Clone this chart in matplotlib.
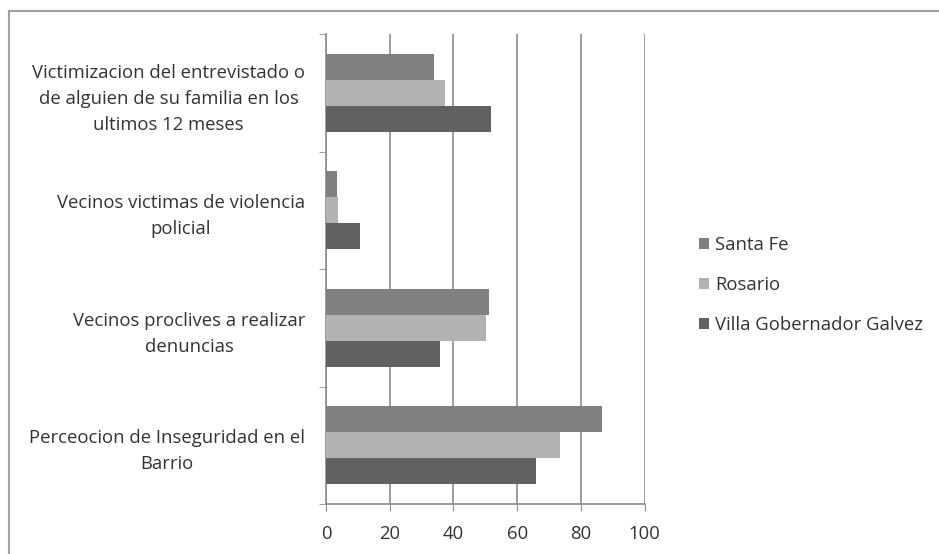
import matplotlib
matplotlib.use("Agg")
import matplotlib.pyplot as plt
import numpy as np
from matplotlib.lines import Line2D
from matplotlib.patches import Patch

categories = [
    "Perceocion de Inseguridad en el\nBarrio",
    "Vecinos proclives a realizar\ndenuncias",
    "Vecinos victimas de violencia\npolicial",
    "Victimizacion del entrevistado o\nde alguien de su familia en los\nultimos 12 meses",
]
series_names = ["Santa Fe", "Rosario", "Villa Gobernador Galvez"]
santa_fe = [86.6, 51.2, 3.4, 33.8]
rosario = [73.3, 50.1, 3.9, 37.3]
villa_gg = [66.0, 35.7, 10.6, 51.7]
x_ticks = [0, 20, 40, 60, 80, 100]

colors = ["#808080", "#b2b2b2", "#616161"]
values = [santa_fe, rosario, villa_gg]

plt.rcParams['font.family'] = ['Open Sans', 'DejaVu Sans']
FS = 13.3
TC = "#333333"

fig = plt.figure(figsize=(9.39, 5.54), dpi=100)
ax = fig.add_axes([326/939, 1-504/554, (644.7-326)/939, (504-34)/554])

y = np.arange(len(categories))
h = 0.221
offsets = [h, 0, -h]
for vals, off, c, name in zip(values, offsets, colors, series_names):
    ax.barh(y + off, vals, height=h, color=c, label=name, zorder=3)

ax.set_xlim(0, 100)
ax.set_ylim(-0.5, len(categories) - 0.5)
ax.set_xticks(x_ticks)
ax.set_xticklabels([str(t) for t in x_ticks], fontsize=FS, color=TC)
ax.set_yticks(y)
ax.set_yticklabels(categories, fontsize=FS, color=TC, multialignment="center", linespacing=1.58)
ax.set_yticks(np.arange(-0.5, len(categories)), minor=True)
ax.tick_params(axis='y', which='major', length=0, pad=15)
ax.tick_params(axis='y', which='minor', length=5, color="#8c8c8c", direction='out')
ax.tick_params(axis='x', length=5, color="#8c8c8c", direction='out', pad=10)

ax.grid(axis='x', color="#8c8c8c", linewidth=1.2, zorder=0)
for s in ["top", "right"]:
    ax.spines[s].set_visible(False)
for s in ["left", "bottom"]:
    ax.spines[s].set_color("#8c8c8c")
    ax.spines[s].set_linewidth(1.2)
ax.spines["bottom"].set_zorder(4)

handles = [Patch(facecolor=c, edgecolor='none') for c in colors]
leg = fig.legend(handles, series_names, loc='center left', bbox_to_anchor=(682/939, 1-285/554),
                 frameon=False, fontsize=FS, handlelength=0.55, handleheight=0.55,
                 handletextpad=0.35, labelspacing=1.17)
for t in leg.get_texts():
    t.set_color(TC)

# chart area border (left and top edges visible)
fig.add_artist(Line2D([9/939, 9/939], [0, 1-11/554], color="#a0a0a0", linewidth=1.5, transform=fig.transFigure))
fig.add_artist(Line2D([9/939, 1], [1-11/554, 1-11/554], color="#a0a0a0", linewidth=1.5, transform=fig.transFigure))

fig.savefig("out.png", dpi=100)
